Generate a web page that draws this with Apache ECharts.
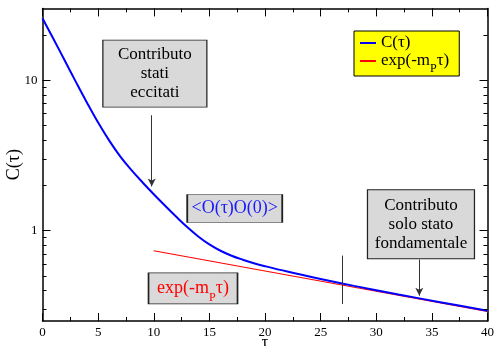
<!DOCTYPE html>
<html>
<head>
<meta charset="utf-8">
<script src="https://cdn.jsdelivr.net/npm/echarts@6/dist/echarts.min.js"></script>
<style>
  html, body { margin: 0; padding: 0; background: #fff; }
  #chart { width: 495px; height: 346px; }
</style>
</head>
<body>
<div id="chart"></div>
<script>
// Full correlator C(tau) (log scale)
const tauC  = [0, 1, 2, 3, 4, 5, 6, 7, 8, 9, 10, 11, 12, 13, 14, 15, 16, 17, 18, 19, 20, 22, 25, 28, 32, 36, 40];
const corrC = [25.8, 18.7, 13.5, 9.74, 7.08, 5.22, 3.96, 3.10, 2.52, 2.086, 1.743, 1.466, 1.238, 1.054, 0.913,
               0.808, 0.733, 0.679, 0.639, 0.606, 0.579, 0.533, 0.476, 0.428, 0.375, 0.331, 0.2926];

// Ground-state exponential exp(-m_P tau)
const tauExp = [10, 40];
const expVals = [0.733, 0.289];

// Axis ticks
const yMajor = [1, 10];
const yMinor = [0.3, 0.4, 0.5, 0.6, 0.7, 0.8, 0.9, 2, 3, 4, 5, 6, 7, 8, 9, 20];
const xMin = 0, xMax = 40, xStep = 5;
const yMin = 0.25, yMax = 30;

const SERIF = '"Liberation Serif", "DejaVu Serif", serif';

const pairs = (xs, ys) => xs.map((x, i) => [x, ys[i]]);

const chart = echarts.init(document.getElementById('chart'), null, { renderer: 'canvas' });

const frame = { show: true, onZero: false, lineStyle: { color: '#000', width: 1.5 } };

function xAxisDef(pos, withLabels) {
  return {
    type: 'value', position: pos, min: xMin, max: xMax, interval: xStep,
    axisLine: frame,
    axisTick: { show: true, inside: true, length: 8, lineStyle: { color: '#000', width: 1 } },
    minorTick: { show: true, splitNumber: 2, length: 4, lineStyle: { color: '#000', width: 1 } },
    axisLabel: { show: withLabels, color: '#000', fontFamily: SERIF, fontSize: 13, margin: 5 },
    splitLine: { show: false },
    name: withLabels ? 'τ' : '', nameLocation: 'middle', nameGap: 13, nameMoveOverlap: false,
    nameTextStyle: { color: '#000', fontFamily: SERIF, fontSize: 17 }
  };
}

function yAxisDef(pos, withLabels) {
  return {
    type: 'log', logBase: 10, position: pos, min: yMin, max: yMax,
    axisLine: frame,
    axisTick: { show: false },
    axisLabel: { show: withLabels, customValues: yMajor, color: '#000', fontFamily: SERIF, fontSize: 13, margin: 5 },
    splitLine: { show: false },
    minorTick: { show: false },
    name: withLabels ? 'C(τ)' : '', nameLocation: 'middle', nameGap: 19, nameRotate: 90, nameMoveOverlap: false,
    nameTextStyle: { color: '#000', fontFamily: SERIF, fontSize: 18 }
  };
}

const subStyle = (color, lh) => ({
  fontFamily: SERIF, fontSize: 12, color: color, verticalAlign: 'bottom', lineHeight: lh, padding: [0, 0, -5, 0]
});

const boxStyle = { color: '#d9d9d9', borderColor: '#222', borderWidth: 1 };
const boxLabel = (text, color, size, lh) => ({
  show: true, position: 'inside', formatter: text, color: color,
  fontFamily: SERIF, fontSize: size, lineHeight: lh, align: 'center',
  rich: { sub: subStyle(color, lh) }
});

const option = {
  animation: false,
  backgroundColor: '#fff',
  grid: { left: 42.5, right: 7.5, top: 8.4, bottom: 25, containLabel: false, outerBoundsMode: 'none' },
  xAxis: [xAxisDef('bottom', true), xAxisDef('top', false)],
  yAxis: [yAxisDef('left', true), yAxisDef('right', false)],
  legend: {
    orient: 'vertical', left: 354, top: 31,
    data: ['C(τ)', 'exp(-mPτ)'],
    backgroundColor: '#ffff00', borderColor: '#000', borderWidth: 1, borderRadius: 0,
    padding: [3, 10, 1, 6], itemGap: 0, itemWidth: 16, itemHeight: 2,
    icon: 'rect',
    formatter: name => name === 'exp(-mPτ)' ? 'exp(-m{sub|P}τ)' : name,
    textStyle: {
      color: '#000', fontFamily: SERIF, fontSize: 17, lineHeight: 18,
      rich: { sub: subStyle('#000', 18) }
    }
  },
  series: [
    {
      name: 'exp(-mPτ)', type: 'line', xAxisIndex: 0, yAxisIndex: 0,
      data: pairs(tauExp, expVals), showSymbol: false, symbol: 'none', z: 2,
      itemStyle: { color: '#ff0000' },
      lineStyle: { color: '#ff0000', width: 1.2 },
      markLine: {
        silent: true, symbol: ['none', 'arrow'], symbolSize: [6, 8], animation: false,
        label: { show: false },
        lineStyle: { color: '#333', width: 1, type: 'solid' },
        data: [
          [{ coord: [9.82, 5.84] }, { coord: [9.82, 1.965] }],
          [{ coord: [33.87, 0.641] }, { coord: [33.87, 0.368] }],
          [{ coord: [26.95, 0.681], symbol: 'none' }, { coord: [26.95, 0.324], symbol: 'none' }]
        ]
      },
      markPoint: {
        silent: true, animation: false,
        data: [
          { coord: [10.1, 11.05], symbol: 'rect', symbolSize: [104, 67], itemStyle: boxStyle,
            label: boxLabel('Contributo\nstati\neccitati', '#000', 17, 19) },
          { coord: [17.28, 1.402], symbol: 'rect', symbolSize: [95, 28], itemStyle: boxStyle,
            label: boxLabel('<O(τ)O(0)>', '#1a1aff', 18, 20) },
          { coord: [13.53, 0.412], symbol: 'rect', symbolSize: [89, 31], itemStyle: boxStyle,
            label: boxLabel('exp(-m{sub|P}τ)', '#ff0000', 18, 20) },
          { coord: [34.02, 1.1], symbol: 'rect', symbolSize: [107, 69], itemStyle: boxStyle,
            label: boxLabel('Contributo\nsolo stato\nfondamentale', '#000', 17, 19) }
        ]
      }
    },
    {
      name: 'C(τ)', type: 'line', xAxisIndex: 0, yAxisIndex: 0,
      data: pairs(tauC, corrC), smooth: 0.4, showSymbol: false, symbol: 'none', z: 3,
      itemStyle: { color: '#0000ff' },
      lineStyle: { color: '#0000ff', width: 2 }
    }
  ]
};

chart.setOption(option);

// Inward log-axis ticks on both vertical frame edges, placed through the y scale
function logTicks() {
  const xl = chart.convertToPixel({ xAxisIndex: 0 }, xMin);
  const xr = chart.convertToPixel({ xAxisIndex: 0 }, xMax);
  const items = [];
  const add = (v, len) => {
    const y = Math.round(chart.convertToPixel({ yAxisIndex: 0 }, v)) + 0.5;
    items.push({ type: 'line', silent: true, z: 10,
      shape: { x1: xl, y1: y, x2: xl + len, y2: y }, style: { stroke: '#000', lineWidth: 1 } });
    items.push({ type: 'line', silent: true, z: 10,
      shape: { x1: xr - len, y1: y, x2: xr, y2: y }, style: { stroke: '#000', lineWidth: 1 } });
  };
  yMajor.forEach(v => add(v, 8));
  yMinor.forEach(v => add(v, 4));
  return items;
}
chart.setOption({ graphic: logTicks() });
</script>
</body>
</html>
